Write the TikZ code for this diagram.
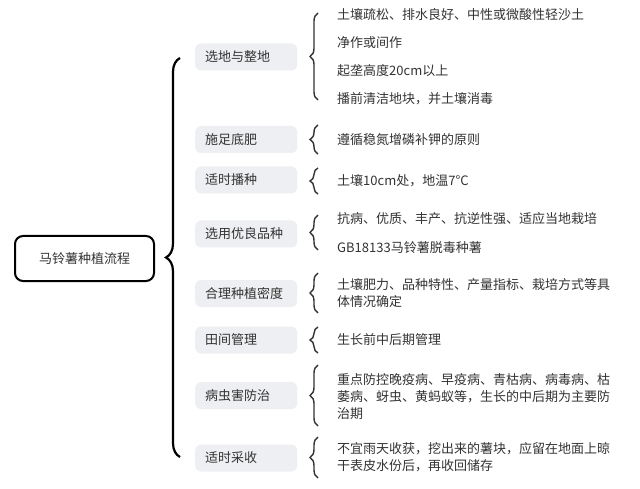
\documentclass[tikz,border=0pt]{standalone}
\usepackage{fontspec}
\setmainfont{Noto Sans CJK SC}
\usetikzlibrary{decorations.pathreplacing}

\definecolor{boxgray}{HTML}{EEEFF2}
\definecolor{txtgray}{HTML}{333333}

\begin{document}
\begin{tikzpicture}[x=1pt, y=-1pt, font=\fontsize{13}{17}\selectfont, text=txtgray,
    rootbox/.style={draw=black, line width=2pt, rounded corners=8pt, fill=white,
        minimum width=139pt, minimum height=45pt},
    catbox/.style={fill=boxgray, rounded corners=6pt, anchor=west, align=left,
        inner xsep=10pt, text width=82pt, minimum height=27pt},
    item/.style={anchor=west, align=left, inner sep=0pt},
    bigbrace/.style={decorate, decoration={brace, amplitude=14pt}, line width=2.2pt, draw=black},
    smallbrace/.style={decorate, decoration={brace, amplitude=8pt}, line width=1.4pt, draw=txtgray}]

    % --- Canvas ---
    \fill[white] (0,0) rectangle (640,489);

    % --- Root ---
    \node[rootbox] (root) at (84.5,258.5) {马铃薯种植流程};

    % --- Steps ---
    \node[catbox] (c1) at (195,57) {选地与整地};
    \node[catbox] (c2) at (195,139.5) {施足底肥};
    \node[catbox] (c3) at (195,180) {适时播种};
    \node[catbox] (c4) at (195,234) {选用优良品种};
    \node[catbox] (c5) at (195,293.5) {合理种植密度};
    \node[catbox] (c6) at (195,340) {田间管理};
    \node[catbox] (c7) at (195,395.5) {病虫害防治};
    \node[catbox] (c8) at (195,458) {适时采收};

    % --- Details ---
    \node[item] (i1a) at (337,15) {土壤疏松、排水良好、中性或微酸性轻沙土};
    \node[item] (i1b) at (337,43) {净作或间作};
    \node[item] (i1c) at (337,71) {起垄高度20cm以上};
    \node[item] (i1d) at (337,99) {播前清洁地块，并土壤消毒};
    \node[item] (i2) at (337,140) {遵循稳氮增磷补钾的原则};
    \node[item] (i3) at (337,181) {土壤10cm处，地温7°C};
    \node[item] (i4a) at (337,219) {抗病、优质、丰产、抗逆性强、适应当地栽培};
    \node[item] (i4b) at (337,248) {GB18133马铃薯脱毒种薯};
    \node[item] (i5) at (337,293.5) {土壤肥力、品种特性、产量指标、栽培方式等具\\体情况确定};
    \node[item] (i6) at (337,340) {生长前中后期管理};
    \node[item] (i7) at (337,396.5) {重点防控晚疫病、早疫病、青枯病、病毒病、枯\\萎病、蚜虫、黄蚂蚁等，生长的中后期为主要防\\治期};
    \node[item] (i8) at (337,457) {不宜雨天收获，挖出来的薯块，应留在地面上晾\\干表皮水份后，再收回储存};

    % --- Brace ends ---
    \coordinate (b0t) at (180,58);
    \coordinate (b0b) at (180,457);
    \coordinate (b1t) at (318,13);
    \coordinate (b1b) at (318,100);
    \coordinate (b2t) at (318,125);
    \coordinate (b2b) at (318,154);
    \coordinate (b3t) at (318,168);
    \coordinate (b3b) at (318,194);
    \coordinate (b4t) at (318,215);
    \coordinate (b4b) at (318,250);
    \coordinate (b5t) at (318,273);
    \coordinate (b5b) at (318,313);
    \coordinate (b6t) at (318,327);
    \coordinate (b6b) at (318,353);
    \coordinate (b7t) at (318,365);
    \coordinate (b7b) at (318,426);
    \coordinate (b8t) at (318,437);
    \coordinate (b8b) at (318,478);

    % --- Braces ---
    \draw[bigbrace] (b0b) -- (b0t);
    \draw[smallbrace] (b1b) -- (b1t);
    \draw[smallbrace] (b2b) -- (b2t);
    \draw[smallbrace] (b3b) -- (b3t);
    \draw[smallbrace] (b4b) -- (b4t);
    \draw[smallbrace] (b5b) -- (b5t);
    \draw[smallbrace] (b6b) -- (b6t);
    \draw[smallbrace] (b7b) -- (b7t);
    \draw[smallbrace] (b8b) -- (b8t);

\end{tikzpicture}
\end{document}
